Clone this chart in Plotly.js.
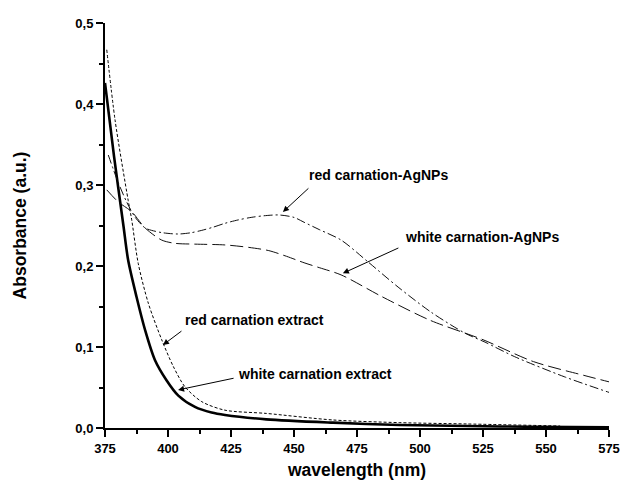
<!DOCTYPE html>
<html>
<head>
<meta charset="utf-8">
<script src="https://cdn.plot.ly/plotly-3.0.1.min.js"></script>
<style>html,body{margin:0;padding:0;background:#fff;}#chart{width:622px;height:484px;}</style>
</head>
<body>
<div id="chart"></div>
<script>
// wavelength (nm) and absorbance (a.u.)
var whiteExtractX = [375, 378.6, 382.3, 384.2, 387.5, 390.9, 394.8, 399.4, 404.1, 410.7, 417.3, 422.6, 439, 465.5, 492, 518.6, 545, 575];
var whiteExtractY = [0.426, 0.335, 0.25, 0.207, 0.162, 0.121, 0.084, 0.059, 0.040, 0.026, 0.019, 0.016, 0.0107, 0.0066, 0.0037, 0.0025, 0.0015, 0.001];

var redExtractX = [375.7, 379, 384.2, 385.6, 388.2, 392.2, 397.5, 402.1, 406.7, 413.4, 422.6, 439, 465.5, 492, 518.6, 555.6];
var redExtractY = [0.467, 0.38, 0.281, 0.257, 0.203, 0.154, 0.109, 0.076, 0.051, 0.0325, 0.022, 0.018, 0.0099, 0.0066, 0.005, 0.0025];

var redAgX = [376.3, 380, 383.6, 387, 390.9, 393.5, 398, 404, 409, 413.4, 418, 422.6, 428, 433, 438, 444, 450, 454, 460, 468.7, 479.4, 491.3, 504.4, 517.9, 525.8, 537.6, 557.5, 575];
var redAgY = [0.337, 0.305, 0.279, 0.26, 0.247, 0.244, 0.241, 0.2395, 0.241, 0.244, 0.248, 0.2527, 0.257, 0.260, 0.262, 0.263, 0.260, 0.254, 0.245, 0.232, 0.205, 0.174, 0.143, 0.117, 0.106, 0.088, 0.063, 0.044];

var whiteAgX = [375.7, 380.3, 385.6, 390.9, 397.5, 402.8, 410.7, 422.6, 432, 440, 447, 454, 460, 468.7, 485, 504, 525, 545, 565, 575];
var whiteAgY = [0.294, 0.279, 0.267, 0.247, 0.232, 0.228, 0.227, 0.226, 0.223, 0.219, 0.212, 0.204, 0.198, 0.189, 0.162, 0.133, 0.109, 0.082, 0.065, 0.057];

var seriesLabels = ["white carnation extract", "red carnation extract", "red carnation-AgNPs", "white carnation-AgNPs"];

var traces = [
  {x: whiteExtractX, y: whiteExtractY, name: seriesLabels[0], mode: 'lines', line: {color: '#000', width: 2.6, shape: 'spline', smoothing: 0.8}},
  {x: redExtractX, y: redExtractY, name: seriesLabels[1], mode: 'lines', line: {color: '#000', width: 1, dash: '3px,2px', shape: 'spline', smoothing: 0.8}},
  {x: redAgX, y: redAgY, name: seriesLabels[2], mode: 'lines', line: {color: '#111', width: 1, dash: '9px,3px,2px,3px', shape: 'spline', smoothing: 0.8}},
  {x: whiteAgX, y: whiteAgY, name: seriesLabels[3], mode: 'lines', line: {color: '#111', width: 1, dash: '13px,5px', shape: 'spline', smoothing: 0.8}}
];

var fontFam = 'Liberation Sans, Arial, sans-serif';
var annFont = {family: fontFam, size: 14, color: '#000'};

function arrow(x, y, ax, ay) {
  return {x: x, y: y, xref: 'x', yref: 'y', ax: ax, ay: ay, text: '', showarrow: true,
          arrowhead: 2, arrowsize: 1.2, arrowwidth: 1, arrowcolor: '#000', standoff: 0, startstandoff: 0};
}
function label(x, y, t) {
  return {x: x, y: y, xref: 'x', yref: 'y', text: '<b>' + t + '</b>', showarrow: false,
          xanchor: 'left', yanchor: 'middle', font: annFont};
}

var layout = {
  width: 622, height: 484,
  margin: {l: 105, r: 13, t: 23, b: 56},
  paper_bgcolor: '#fff', plot_bgcolor: '#fff',
  showlegend: false,
  separators: ',.',
  font: {family: fontFam, color: '#000'},
  xaxis: {
    range: [375, 575], tick0: 375, dtick: 25, showgrid: false, zeroline: false,
    showline: true, linecolor: '#000', linewidth: 2,
    ticks: 'outside', ticklen: 7, tickwidth: 2, tickcolor: '#000',
    minor: {dtick: 12.5, ticks: 'outside', ticklen: 4, tickwidth: 2, tickcolor: '#000'},
    tickfont: {family: fontFam, size: 13, weight: 'bold'},
    title: {text: '<b>wavelength (nm)</b>', font: {family: fontFam, size: 17.5}, standoff: 9}
  },
  yaxis: {
    range: [0, 0.5], dtick: 0.1, tickformat: '.1f', showgrid: false, zeroline: false,
    showline: true, linecolor: '#000', linewidth: 2,
    ticks: 'outside', ticklen: 7, tickwidth: 2, tickcolor: '#000',
    minor: {dtick: 0.05, ticks: 'outside', ticklen: 4, tickwidth: 2, tickcolor: '#000'},
    tickfont: {family: fontFam, size: 13, weight: 'bold'},
    title: {text: '<b>Absorbance (a.u.)</b>', font: {family: fontFam, size: 17.5}, standoff: 44}
  },
  annotations: [
    label(455.2, 0.312, seriesLabels[2]),
    arrow(445.6, 0.2667, 27, -25),
    label(493.3, 0.236, seriesLabels[3]),
    arrow(469.4, 0.191, 57, -26),
    label(406, 0.133, seriesLabels[1]),
    arrow(398, 0.1025, 20, -15),
    label(427, 0.0667, seriesLabels[0]),
    arrow(404, 0.047, 57, -12)
  ]
};

Plotly.newPlot('chart', traces, layout, {staticPlot: true, displayModeBar: false});
</script>
</body>
</html>
